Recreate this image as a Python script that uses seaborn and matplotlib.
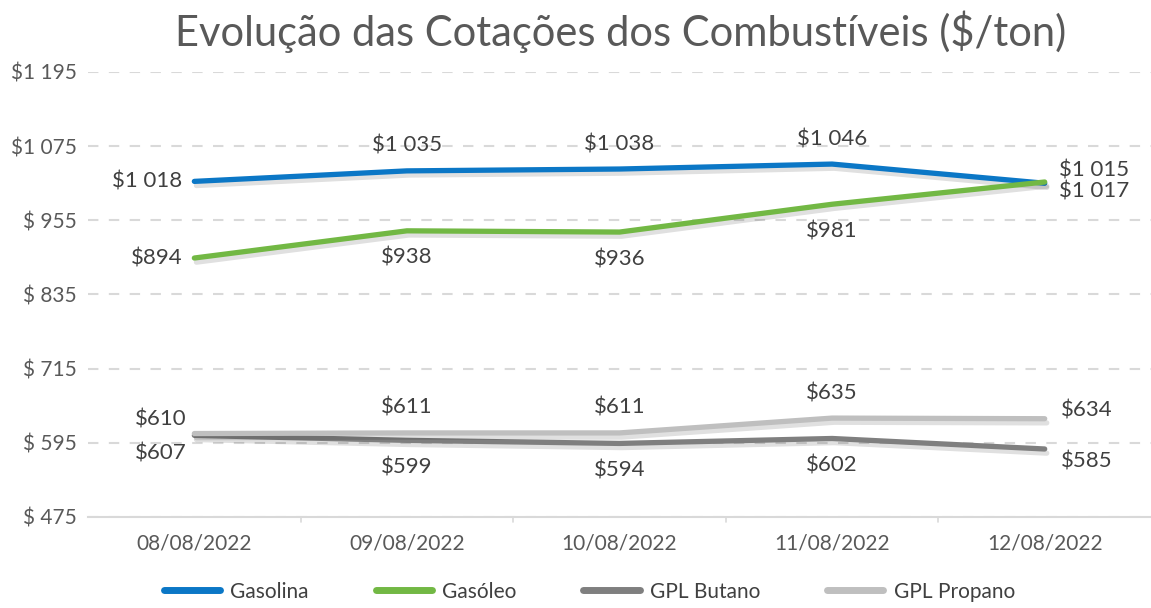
import pandas as pd
import seaborn as sns
import matplotlib.pyplot as plt
import matplotlib.patheffects as pe

sns.set_style("white")
plt.rcParams["font.family"] = ["Lato", "DejaVu Sans"]

dates = ["08/08/2022", "09/08/2022", "10/08/2022", "11/08/2022", "12/08/2022"]
gasolina = [1018, 1035, 1038, 1046, 1015]
gasoleo = [894, 938, 936, 981, 1017]
butano = [607, 599, 594, 602, 585]
propano = [610, 611, 611, 635, 634]

series_names = ["Gasolina", "Gasóleo", "GPL Butano", "GPL Propano"]
colors = ["#0B77C6", "#72B844", "#7F7F7F", "#BFBFBF"]
y_ticks = [475, 595, 715, 835, 955, 1075, 1195]
y_tick_labels = ["$ 475", "$ 595", "$ 715", "$ 835", "$ 955", "$1 075", "$1 195"]

rows = []
for name, vals in zip(series_names, [gasolina, gasoleo, butano, propano]):
    for i, (d, v) in enumerate(zip(dates, vals)):
        rows.append({"serie": name, "pos": i, "data": d, "valor": v})
df = pd.DataFrame(rows)


def fmt(v):
    return f"${v // 1000} {v % 1000:03d}" if v >= 1000 else f"${v}"


fig = plt.figure(figsize=(11.51, 6.08), dpi=100)
ax = fig.add_axes([0.0765, 0.1497, 0.9235, 0.7319])

shadow = [pe.SimpleLineShadow(offset=(1.5, -3), alpha=0.12, shadow_color="k"), pe.Normal()]
sns.lineplot(data=df, x="pos", y="valor", hue="serie", hue_order=series_names,
             palette=colors, linewidth=3.8, ax=ax, legend=False,
             path_effects=shadow, solid_capstyle="round")

# label placement: above or below each series
above = {"Gasolina": True, "Gasóleo": False, "GPL Butano": False, "GPL Propano": True}
txt = "#404040"
for name, vals in zip(series_names, [gasolina, gasoleo, butano, propano]):
    up = above[name]
    for i, v in enumerate(vals):
        if i == 0:
            off = (-12, 0) if name in ("Gasolina", "Gasóleo") else (-8, 14 if up else -18)
            ha = "right"
        elif i == 4:
            off = (14, 13 if up else -10) if name in ("Gasolina", "Gasóleo") else (16, 8 if up else -13)
            ha = "left"
        else:
            off = (0, 25 if up else -27)
            ha = "center"
        ax.annotate(fmt(v), (i, v), xytext=off, textcoords="offset pixels",
                    ha=ha, va="center", fontsize=16, color=txt)

ax.set_xlim(-0.5, 4.5)
ax.set_ylim(475, 1195)
ax.set_yticks(y_ticks)
ax.set_yticklabels(y_tick_labels)
ax.set_xticks(range(5))
ax.set_xticklabels(dates)
ax.set_xlabel("")
ax.set_ylabel("")
ax.tick_params(axis="both", labelsize=15, colors="#595959", length=0, pad=12)
ax.tick_params(axis="y", pad=8)
ax.yaxis.grid(True, linestyle=(0, (5, 5)), color="#D9D9D9", linewidth=1.5)
ax.xaxis.grid(False)
for s in ["top", "right", "left"]:
    ax.spines[s].set_visible(False)
ax.spines["bottom"].set_color("#D9D9D9")
ax.spines["bottom"].set_linewidth(1.5)
for b in [0.5, 1.5, 2.5, 3.5]:
    ax.plot([b, b], [0, -0.012], transform=ax.get_xaxis_transform(),
            color="#D9D9D9", linewidth=1.2, clip_on=False)

fig.text(0.539, 0.947, "Evolução das Cotações dos Combustíveis ($/ton)",
         ha="center", va="center", fontsize=30, color="#595959")

handles = [plt.Line2D([], [], color=c, linewidth=5, solid_capstyle="round") for c in colors]
fig.legend(handles, series_names, loc="center", bbox_to_anchor=(0.512, 0.027),
           ncol=4, frameon=False, handlelength=2.7, columnspacing=3.2,
           handletextpad=0.5, labelcolor="#404040", prop={"size": 15})

fig.savefig("out.png", dpi=100)
